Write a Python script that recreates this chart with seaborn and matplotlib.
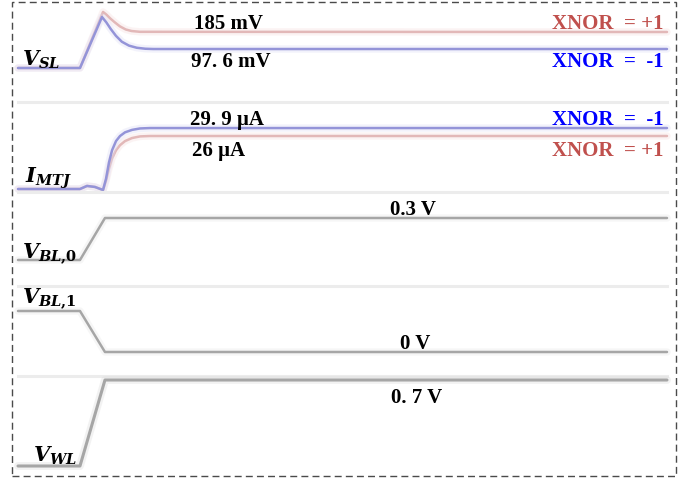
import numpy as np
import matplotlib
matplotlib.use("Agg")
import matplotlib.pyplot as plt
from matplotlib.patches import Rectangle
import seaborn as sns
import pandas as pd

sns.set_theme(style="white")
plt.rcParams['font.family'] = ['Liberation Serif', 'DejaVu Serif']
plt.rcParams['mathtext.fontset'] = 'custom'
plt.rcParams['mathtext.rm'] = 'DejaVu Serif:bold'
plt.rcParams['mathtext.it'] = 'DejaVu Serif:italic:bold'
plt.rcParams['mathtext.bf'] = 'DejaVu Serif:bold'

# ---------------- data (time in ns) ----------------
t_vsl_p1 = [0, 0.955, 1.31, 1.36, 1.42, 1.49, 1.57, 1.66, 1.75, 1.88, 10]
v_sl_p1 = [0, 0, 288, 275, 255, 235, 214, 198, 190, 186, 185]          # mV, XNOR=+1
t_vsl_m1 = [0, 0.955, 1.294, 1.36, 1.43, 1.51, 1.60, 1.71, 1.83, 1.96, 2.08, 10]
v_sl_m1 = [0, 0, 262, 235, 200, 165, 135, 115, 104, 99, 97.6, 97.6]     # mV, XNOR=-1

t_imtj = [0, 0.955, 1.063, 1.186, 1.31, 1.356, 1.402, 1.449, 1.510, 1.572,
          1.649, 1.757, 1.880, 2.034, 10]
i_mtj_m1 = [0, 0, 1.5, 1.0, -0.5, 5, 13, 19, 23.5, 26, 27.8, 29, 29.7, 29.9, 29.9]  # uA, XNOR=-1
i_mtj_p1 = [0, 0, 1.5, 1.0, -0.5, 4, 10, 15, 19, 21.5, 23.5, 25, 25.8, 26, 26]       # uA, XNOR=+1

t_edge = [0, 0.955, 1.34, 10]
v_bl0 = [0, 0, 0.3, 0.3]   # V
v_bl1 = [0.3, 0.3, 0, 0]   # V
v_wl = [0, 0, 0.7, 0.7]    # V

W, H = 699, 481
fig = plt.figure(figsize=(W / 100, H / 100), dpi=100)
fig.patch.set_facecolor("white")

X0, X1 = 18, 667
BLUE_LINE = "#9494d8"
RED_LINE = "#e2b8b8"
GRAY_LINE = "#a6a6a6"
SEP = "#ececec"


def panel(ptop, pbot, v0, p0, v1, p1, sep=True):
    s = (p0 - p1) / (v1 - v0)
    lo = v0 - (pbot - p0) / s
    hi = v0 + (p0 - ptop) / s
    ax = fig.add_axes([X0 / W, 1 - pbot / H, (X1 - X0) / W, (pbot - ptop) / H])
    ax.set_xlim(0, 10)
    ax.set_ylim(lo, hi)
    ax.patch.set_alpha(0)
    for k in ["top", "left", "right"]:
        ax.spines[k].set_visible(False)
    if sep:
        ax.spines["bottom"].set_color(SEP)
        ax.spines["bottom"].set_linewidth(2.2)
    else:
        ax.spines["bottom"].set_visible(False)
    ax.set_xticks([])
    ax.set_yticks([])
    ax.set_xlabel("")
    ax.set_ylabel("")
    return ax


def draw(ax, t, v, color, glow, lw=1.8):
    df = pd.DataFrame({"t": t, "v": v})
    sns.lineplot(data=df, x="t", y="v", ax=ax, color=glow, lw=lw + 3.5,
                 alpha=0.35, sort=False, estimator=None, clip_on=False)
    sns.lineplot(data=df, x="t", y="v", ax=ax, color=color, lw=lw,
                 sort=False, estimator=None, clip_on=False)
    ax.set_xlabel("")
    ax.set_ylabel("")


# V_SL
ax1 = panel(5, 103, 0, 69, 185, 33)
draw(ax1, t_vsl_p1, v_sl_p1, RED_LINE, "#f6dede")
draw(ax1, t_vsl_m1, v_sl_m1, BLUE_LINE, "#dcdcf4")

# I_MTJ
ax2 = panel(103, 193, 0, 190, 26, 137)
draw(ax2, t_imtj, i_mtj_p1, RED_LINE, "#f6dede")
draw(ax2, t_imtj, i_mtj_m1, BLUE_LINE, "#dcdcf4")

# V_BL,0
ax3 = panel(193, 287, 0, 261, 0.3, 219)
draw(ax3, t_edge, v_bl0, GRAY_LINE, "#e6e6e6")

# V_BL,1
ax4 = panel(287, 377, 0, 353, 0.3, 312)
draw(ax4, t_edge, v_bl1, GRAY_LINE, "#e6e6e6")

# V_WL
ax5 = panel(377, 475, 0, 467, 0.7, 381, sep=False)
draw(ax5, t_edge, v_wl, GRAY_LINE, "#dcdcdc", lw=2.2)


def ftext(x, y, s, **kw):
    fig.text(x / W, 1 - y / H, s, **kw)


RED_T = "#c0504d"
BLUE_T = "#0000ff"
vfs = 15
ftext(229, 24, "185 mV", ha="center", va="center", fontsize=vfs, fontweight="bold", color="black")
ftext(231, 62, "97. 6 mV", ha="center", va="center", fontsize=vfs, fontweight="bold", color="black")
ftext(227, 120, "29. 9 \u03bcA", ha="center", va="center", fontsize=vfs, fontweight="bold", color="black")
ftext(219, 151, "26 \u03bcA", ha="center", va="center", fontsize=vfs, fontweight="bold", color="black")
ftext(413, 210, "0.3 V", ha="center", va="center", fontsize=vfs, fontweight="bold", color="black")
ftext(415, 344, "0 V", ha="center", va="center", fontsize=vfs, fontweight="bold", color="black")
ftext(417, 398, "0. 7 V", ha="center", va="center", fontsize=vfs, fontweight="bold", color="black")

ftext(664, 24, "XNOR  = +1", ha="right", va="center", fontsize=vfs, fontweight="bold", color=RED_T)
ftext(664, 62, "XNOR  =  -1", ha="right", va="center", fontsize=vfs, fontweight="bold", color=BLUE_T)
ftext(664, 120, "XNOR  =  -1", ha="right", va="center", fontsize=vfs, fontweight="bold", color=BLUE_T)
ftext(664, 151, "XNOR  = +1", ha="right", va="center", fontsize=vfs, fontweight="bold", color=RED_T)

lfs = 15
ftext(22, 66, r"$V_{SL}$", ha="left", va="baseline", fontsize=lfs, color="black")
ftext(25, 183, r"$I_{MTJ}$", ha="left", va="baseline", fontsize=lfs, color="black")
ftext(22, 259, r"$V_{BL{,}0}$", ha="left", va="baseline", fontsize=lfs, color="black")
ftext(22, 304, r"$V_{BL{,}1}$", ha="left", va="baseline", fontsize=lfs, color="black")
ftext(33, 462, r"$V_{WL}$", ha="left", va="baseline", fontsize=lfs, color="black")

# dashed frame
fig.patches.append(Rectangle((12 / W, 1 - 477 / H), (676 - 12) / W, (477 - 3) / H,
                             transform=fig.transFigure, fill=False, edgecolor="#4a4a4a",
                             lw=1.0, linestyle=(0, (5, 3))))

fig.savefig("out.png", dpi=100, facecolor="white")
